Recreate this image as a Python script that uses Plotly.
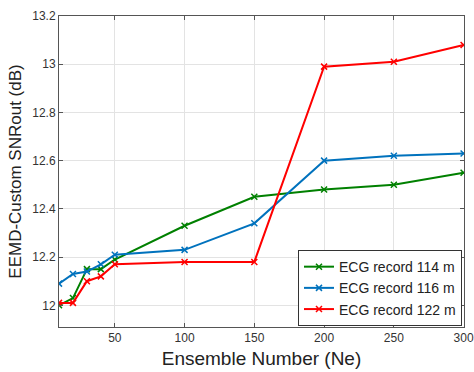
import plotly.graph_objects as go

ensemble = [10, 20, 30, 40, 50, 100, 150, 200, 250, 300]
rec114 = [12.00, 12.03, 12.15, 12.15, 12.19, 12.33, 12.45, 12.48, 12.50, 12.55]
rec116 = [12.09, 12.13, 12.14, 12.17, 12.21, 12.23, 12.34, 12.60, 12.62, 12.63]
rec122 = [12.01, 12.01, 12.10, 12.12, 12.17, 12.18, 12.18, 12.99, 13.01, 13.08]
names = ["ECG record 114 m", "ECG record 116 m", "ECG record 122 m"]
colors = ["#008000", "#0072BD", "#FF0000"]
x_ticks = [50, 100, 150, 200, 250, 300]
y_ticks = [12, 12.2, 12.4, 12.6, 12.8, 13, 13.2]
y_labels = ["12", "12.2", "12.4", "12.6", "12.8", "13", "13.2"]

fig = go.Figure()
for name, ys, c in zip(names, [rec114, rec116, rec122], colors):
    fig.add_trace(go.Scatter(
        x=ensemble, y=ys, name=name, mode="lines+markers",
        line=dict(color=c, width=2),
        marker=dict(symbol="x-thin", size=6, line=dict(color=c, width=1.5)),
    ))

axis_common = dict(
    showgrid=True, gridcolor="#E3E3E3", gridwidth=1,
    showline=True, linecolor="#555555", linewidth=1, mirror="ticks",
    ticks="inside", ticklen=4, tickcolor="#555555",
    tickfont=dict(family="Liberation Sans, Arial, sans-serif", size=12, color="#333333"),
    zeroline=False, automargin=False,
)
fig.update_layout(
    width=474, height=372,
    margin=dict(l=59, r=10, t=16, b=45),
    paper_bgcolor="white", plot_bgcolor="white",
    font=dict(family="Liberation Sans, Arial, sans-serif", color="#222222"),
    xaxis=dict(range=[10, 300.3], tickvals=x_ticks,
               title=dict(text="Ensemble Number (Ne)", font=dict(size=19), standoff=7),
               **axis_common),
    yaxis=dict(range=[11.91, 13.2], tickvals=y_ticks, ticktext=y_labels,
               title=dict(text="EEMD-Custom SNRout (dB)", font=dict(size=17), standoff=6),
               **axis_common),
    legend=dict(x=0.995, y=0.003, xanchor="right", yanchor="bottom",
                bgcolor="white", bordercolor="#333333", borderwidth=1,
                font=dict(size=14, color="#222222"),
                tracegroupgap=0, itemwidth=30),
    showlegend=True,
)
fig.write_html("out.html")
